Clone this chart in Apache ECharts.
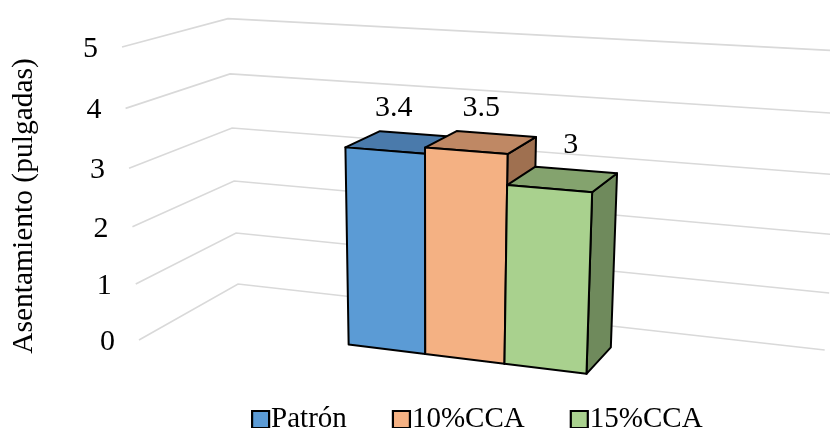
<!DOCTYPE html>
<html>
<head>
<meta charset="UTF-8">
<title>Asentamiento</title>
<script src="https://cdn.jsdelivr.net/npm/echarts@6/dist/echarts.min.js"></script>
<style>html,body{margin:0;background:#fff;}</style>
</head>
<body>
<div id="main" style="width:830px;height:428px;"></div>
<script>
var seriesNames = ['Patrón', '10%CCA', '15%CCA'];
var values = [3.4, 3.5, 3];
var yTicks = [0, 1, 2, 3, 4, 5];
var frontColors = ['#5b9bd5', '#f4b183', '#a9d18e'];
var topColors = ['#4a7aab', '#bf8864', '#84a36e'];
var sideColors = ['#3d6590', '#9f7050', '#6f8a5c'];

var FONT = '"Liberation Serif", "Times New Roman", serif';

// perspective of the 3d plot: x runs along the bars, y is the value, z the depth
var cam = {
  w: [1, -0.013, -0.011, 0.11],
  u: [139, 54.4, -4.74, 125.2],
  v: [340, 2.78, -59.1, -24.8]
};
var wallLength = 10;
var barStart = 3.13, barWidth = 1.267, barFront = 0.29, barBack = 0.685;
var labelSpread = 8;

function project(api, x, y, z) {
  var w = cam.w[0] + cam.w[1] * x + cam.w[2] * y + cam.w[3] * z;
  var u = cam.u[0] + cam.u[1] * x + cam.u[2] * y + cam.u[3] * z;
  var v = cam.v[0] + cam.v[1] * x + cam.v[2] * y + cam.v[3] * z;
  return api.coord([u / w, v / w]);
}

function renderGrid(params, api) {
  var t = api.value(1);
  var a = project(api, 0, t, 0);
  var b = project(api, 0, t, 1);
  var c = project(api, wallLength, t, 1);
  return {
    type: 'group',
    children: [
      { type: 'polyline', shape: { points: [a, b, c] },
        style: { stroke: '#d9d9d9', lineWidth: 1.6, fill: null } },
      { type: 'text', x: a[0] - 24, y: a[1] + 2,
        style: { text: String(t), align: 'right', verticalAlign: 'middle',
                 font: '30px ' + FONT, fill: '#000' } }
    ]
  };
}

function renderBar(params, api) {
  var i = api.value(0), h = api.value(1);
  var x0 = barStart + i * barWidth, x1 = x0 + barWidth;
  var p = function (x, y, z) { return project(api, x, y, z); };
  var zm = (barFront + barBack) / 2;
  var lab = p((x0 + x1) / 2, h, zm);
  function face(pts, color) {
    return { type: 'polygon', shape: { points: pts },
      style: { fill: color, stroke: '#000', lineWidth: 2, lineJoin: 'round' } };
  }
  return {
    type: 'group',
    children: [
      face([p(x1, 0, barFront), p(x1, 0, barBack), p(x1, h, barBack), p(x1, h, barFront)], sideColors[i]),
      face([p(x0, h, barFront), p(x1, h, barFront), p(x1, h, barBack), p(x0, h, barBack)], topColors[i]),
      face([p(x0, 0, barFront), p(x1, 0, barFront), p(x1, h, barFront), p(x0, h, barFront)], frontColors[i]),
      { type: 'text', x: lab[0] + (i - 1) * labelSpread, y: lab[1] - 34,
        style: { text: String(h), align: 'center', verticalAlign: 'middle',
                 font: '30px ' + FONT, fill: '#000' } }
    ]
  };
}

var chart = echarts.init(document.getElementById('main'));

var series = [{
  type: 'custom',
  name: 'grid',
  z: 1,
  renderItem: renderGrid,
  data: yTicks.map(function (t) { return [0, t]; })
}];
seriesNames.forEach(function (name, i) {
  series.push({
    type: 'custom',
    name: name,
    z: 2 + i,
    itemStyle: { color: frontColors[i] },
    renderItem: renderBar,
    data: [[i, values[i]]]
  });
});

chart.setOption({
  animation: false,
  grid: { left: 0, right: 0, top: 0, bottom: 0 },
  xAxis: { type: 'value', min: 0, max: 830, show: false },
  yAxis: { type: 'value', min: 0, max: 428, inverse: true, show: false },
  legend: {
    data: seriesNames,
    left: 246,
    top: 400,
    icon: 'rect',
    itemWidth: 17,
    itemHeight: 17,
    itemGap: 45,
    itemStyle: { borderColor: '#000', borderWidth: 2.2 },
    textStyle: { fontFamily: FONT, fontSize: 29, color: '#000', padding: [0, 0, 0, -3] }
  },
  graphic: [{
    type: 'text',
    x: 24,
    y: 206,
    rotation: Math.PI / 2,
    style: { text: 'Asentamiento (pulgadas)', align: 'center', verticalAlign: 'middle',
             font: '29.5px ' + FONT, fill: '#000' }
  }],
  series: series
});
</script>
</body>
</html>
